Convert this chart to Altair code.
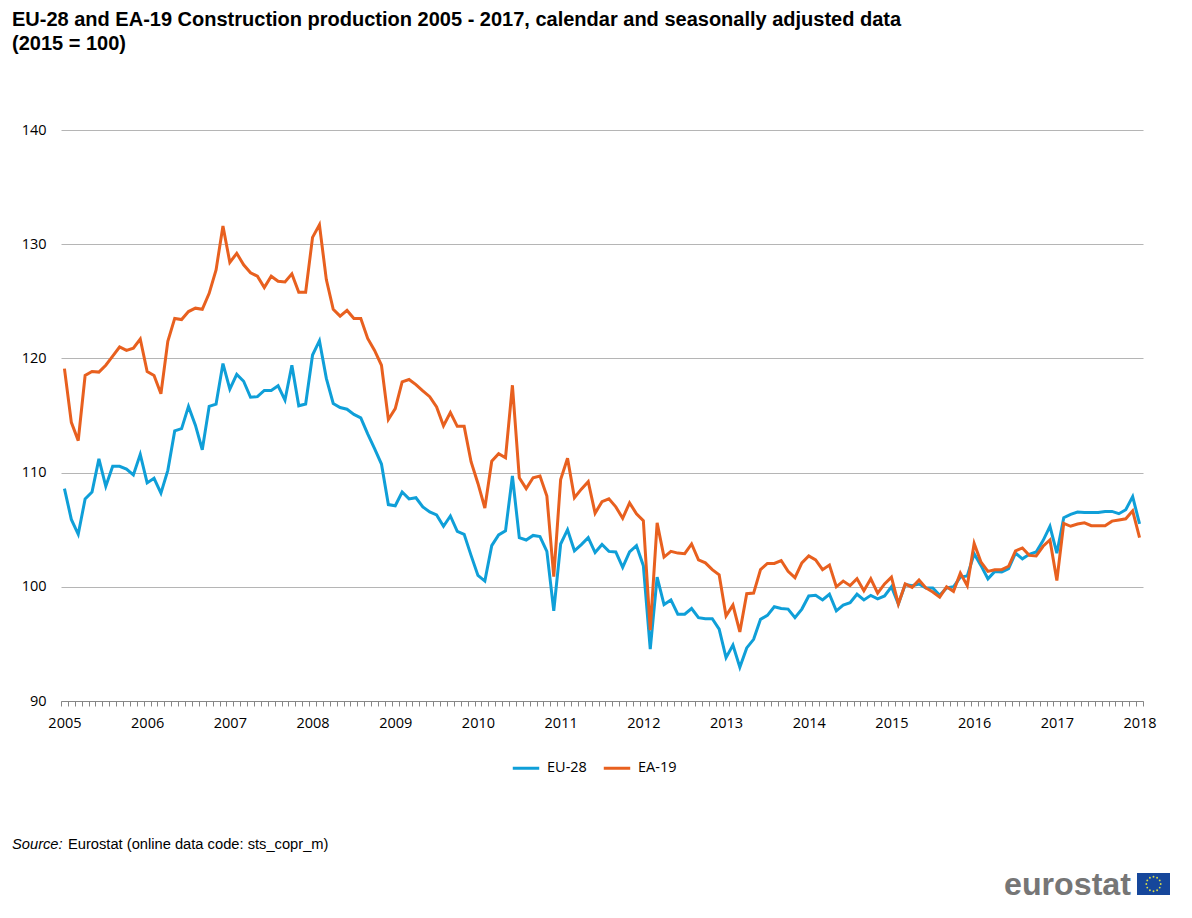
import math
import altair as alt
import pandas as pd

years = list(range(2005, 2018))
months = [f"{y}-{m:02d}" for y in years for m in range(1, 13)] + ["2018-01"]

eu28 = [108.6,105.9,104.6,107.7,108.3,111.2,108.8,110.55,110.55,110.3,109.8,111.6,
109.1,109.5,108.2,110.2,113.65,113.85,115.8,114.15,112.0,115.8,116.0,119.55,
117.3,118.6,118.0,116.6,116.65,117.2,117.2,117.6,116.35,119.4,115.85,116.0,
120.3,121.55,118.25,116.05,115.7,115.55,115.1,114.8,113.4,112.1,110.75,107.2,
107.1,108.3,107.7,107.8,107.0,106.55,106.3,105.3,106.2,104.85,104.6,102.75,
101.0,100.5,103.6,104.55,104.9,109.7,104.3,104.1,104.5,104.4,103.1,97.9,
103.75,105.0,103.15,103.7,104.3,103.0,103.7,103.1,103.05,101.7,103.05,103.6,
101.85,94.55,100.85,98.45,98.85,97.6,97.6,98.1,97.3,97.2,97.2,96.3,
93.8,94.9,92.95,94.65,95.4,97.15,97.5,98.25,98.1,98.05,97.3,98.05,
99.2,99.25,98.85,99.35,97.9,98.4,98.6,99.35,98.85,99.25,98.95,99.2,
100.0,98.5,100.2,100.1,100.25,99.9,99.9,99.25,99.9,100.0,100.85,100.95,
102.9,101.85,100.7,101.35,101.3,101.6,102.95,102.45,102.85,103.05,104.05,105.3,
102.95,106.05,106.35,106.55,106.5,106.5,106.5,106.6,106.6,106.4,106.75,107.9,
105.5]

ea19 = [119.1,114.4,112.8,118.5,118.85,118.8,119.4,120.2,121.0,120.7,120.9,121.7,
118.85,118.5,116.9,121.5,123.5,123.4,124.1,124.4,124.3,125.7,127.75,131.6,
128.4,129.2,128.2,127.5,127.2,126.2,127.2,126.75,126.7,127.4,125.8,125.8,
130.6,131.7,126.9,124.3,123.7,124.2,123.5,123.5,121.75,120.7,119.4,114.65,
115.6,117.95,118.15,117.7,117.15,116.65,115.75,114.1,115.25,114.05,114.05,110.95,
109.05,106.9,111.0,111.65,111.3,117.65,109.55,108.6,109.55,109.7,107.95,100.9,
109.4,111.25,107.8,108.55,109.2,106.45,107.45,107.7,107.0,106.0,107.35,106.4,
105.8,96.2,105.6,102.6,103.1,102.95,102.9,103.75,102.35,102.1,101.5,101.05,
97.45,98.4,96.05,99.4,99.45,101.5,102.05,102.05,102.3,101.35,100.8,102.1,
102.7,102.35,101.5,101.9,100.0,100.5,100.1,100.7,99.65,100.7,99.45,100.25,
100.85,98.5,100.25,99.95,100.6,99.9,99.55,99.1,100.0,99.6,101.2,100.1,
103.8,102.15,101.35,101.5,101.5,101.8,103.15,103.4,102.75,102.7,103.55,104.1,
100.55,105.55,105.3,105.5,105.6,105.35,105.35,105.35,105.75,105.85,105.95,106.65,
104.3]

series_names = ["EU-28", "EA-19"]
series_colors = ["#0f9fd8", "#e8601f"]

title_lines = [
    "EU-28 and EA-19 Construction production 2005 - 2017, calendar and seasonally adjusted data",
    "(2015 = 100)",
]
source_label = ["Source:"]
source_text = ["Eurostat (online data code: sts_copr_m)"]
brand = ["eurostat"]

LEFT, TOP = 61, 130  # page position of the plot origin


def px(x):
    return x - LEFT


def py(y):
    return y - TOP


df = pd.concat([
    pd.DataFrame({"month": months, "value": eu28, "series": series_names[0]}),
    pd.DataFrame({"month": months, "value": ea19, "series": series_names[1]}),
])

lines = alt.Chart(df).mark_line(strokeWidth=3, strokeJoin="miter", clip=False).encode(
    x=alt.X(
        "month:O",
        sort=None,
        title=None,
        scale=alt.Scale(type="band", paddingInner=0, paddingOuter=0),
        axis=alt.Axis(
            tickBand="extent",
            tickSize=5,
            tickColor="#868686",
            tickWidth=1,
            domainColor="#868686",
            domainWidth=1,
            grid=False,
            labelAngle=0,
            labelOverlap=False,
            labelPadding=10,
            labelFont="Open Sans",
            labelFontSize=14.5,
            labelColor="#000000",
            labelExpr="substring(datum.value,5,7)=='01' ? substring(datum.value,0,4) : ''",
        ),
    ),
    y=alt.Y(
        "value:Q",
        title=None,
        scale=alt.Scale(domain=[90, 140], nice=False, zero=False),
        axis=alt.Axis(
            values=[90, 100, 110, 120, 130, 140],
            domain=False,
            ticks=False,
            grid=True,
            gridColor="#b5b5b5",
            gridWidth=1,
            labelPadding=15,
            labelFont="Open Sans",
            labelFontSize=14.5,
            labelColor="#000000",
        ),
    ),
    color=alt.Color(
        "series:N",
        sort=series_names,
        scale=alt.Scale(domain=series_names, range=series_colors),
        legend=alt.Legend(
            orient="none",
            legendX=px(511),
            legendY=py(753),
            direction="horizontal",
            title=None,
            symbolType="stroke",
            symbolSize=700,
            symbolStrokeWidth=3,
            labelFont="Open Sans",
            labelFontSize=14.5,
            labelColor="#000000",
            labelOffset=6,
            columnPadding=10,
        ),
    ),
)


def label(texts, x, y, **kw):
    return alt.Chart(pd.DataFrame({"t": texts})).mark_text(align="left", baseline="alphabetic", **kw).encode(
        text="t:N", x=alt.value(px(x)), y=alt.value(py(y))
    )


src1 = label(source_label, 12, 849, font="Liberation Sans", fontSize=14.7, fontStyle="italic", color="#000000")
src2 = label(source_text, 68, 849, font="Liberation Sans", fontSize=14.7, color="#000000")
logo_text = label(brand, 1004, 895, font="Liberation Sans", fontSize=32.2, fontWeight="bold", color="#767676")

flag = alt.Chart(pd.DataFrame({"t": ["flag"]})).mark_rect(color="#16479b").encode(
    x=alt.value(px(1137)), x2=alt.value(px(1170)), y=alt.value(py(873)), y2=alt.value(py(895))
)
stars = [
    alt.Chart(pd.DataFrame({"t": [k]})).mark_circle(size=3.5, color="#d8dc4a", opacity=1).encode(
        x=alt.value(px(1153.5 + 7.2 * math.sin(k * math.pi / 6))),
        y=alt.value(py(884 - 7.2 * math.cos(k * math.pi / 6))),
    )
    for k in range(12)
]

chart = alt.layer(lines, src1, src2, logo_text, flag, *stars).properties(
    width=1082,
    height=571,
    background="white",
    autosize=alt.AutoSizeParams(type="none"),
    padding={"left": LEFT - 8, "top": TOP - 8, "right": 41, "bottom": 200},
    title=alt.TitleParams(
        text=title_lines,
        anchor="start",
        frame="group",
        dx=-49,
        offset=68,
        font="Liberation Sans",
        fontSize=20,
        fontWeight="bold",
        color="#000000",
        lineHeight=24,
    ),
).configure_view(strokeWidth=0, stroke=None)

chart.save("out.html", embed_options={"renderer": "svg", "actions": False})
